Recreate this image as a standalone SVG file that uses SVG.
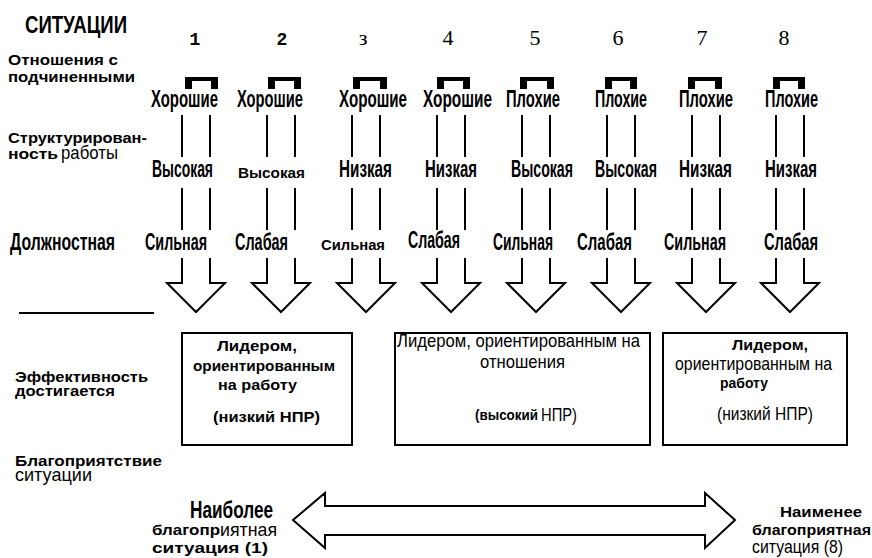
<svg xmlns="http://www.w3.org/2000/svg" xmlns:xlink="http://www.w3.org/1999/xlink" width="872" height="558" viewBox="0 0 872 558">
<style>
text{fill:#000}
.bc{font-family:"Liberation Sans",Arial,sans-serif;font-weight:bold;font-size:23px}
.bw{font-family:"Liberation Sans",Arial,sans-serif;font-weight:bold;font-size:14px}
.rc{font-family:"Liberation Sans",Arial,sans-serif;font-weight:normal;font-size:19px}
.nm{font-family:"Liberation Mono","Courier New",monospace;font-weight:bold;font-size:18px}
.ns{font-family:"Liberation Serif","Times New Roman",serif;font-size:22px}
.ln{fill:none;stroke:#000;stroke-width:2}
.br{fill:#000}
</style>
<defs>
<g id="arr">
<path class="ln" d="M-14,115V157M14,115V157M-14,188V230M14,188V230M-14,258V283H-29L0,312L29,283H14V258"/>
</g>
</defs>

<g id="labels">
<text class="bc" x="25" y="33" font-size="25" textLength="102" lengthAdjust="spacingAndGlyphs">СИТУАЦИИ</text>
<text class="bw" x="8" y="65" textLength="110" lengthAdjust="spacingAndGlyphs">Отношения с</text>
<text class="bw" x="8" y="82" textLength="127" lengthAdjust="spacingAndGlyphs">подчиненными</text>
<text class="bw" x="8" y="143" textLength="139" lengthAdjust="spacingAndGlyphs">Структурирован-</text>
<text class="bw" x="8" y="159" textLength="50" lengthAdjust="spacingAndGlyphs">ность</text>
<text class="rc" x="61" y="159" textLength="57" lengthAdjust="spacingAndGlyphs">работы</text>
<text class="bc" x="10" y="250" textLength="105" lengthAdjust="spacingAndGlyphs">Должностная</text>
<text class="bw" x="15" y="382" textLength="133" lengthAdjust="spacingAndGlyphs">Эффективность</text>
<text class="bw" x="15" y="396" textLength="100" lengthAdjust="spacingAndGlyphs">достигается</text>
<text class="bw" x="15" y="466" font-size="13" textLength="147" lengthAdjust="spacingAndGlyphs">Благоприятствие</text>
<text class="rc" x="15" y="481" textLength="77" lengthAdjust="spacingAndGlyphs">ситуации</text>
<line class="ln" x1="19" y1="313" x2="154" y2="313"/>
</g>

<g id="col1">
<text class="nm" x="195" y="45" text-anchor="middle">1</text>
<path class="br" d="M185,77H218V89H211V81H192V89H185Z"/>
<text class="bc" x="151" y="107" textLength="67" lengthAdjust="spacingAndGlyphs">Хорошие</text>
<text class="bc" x="152" y="177" textLength="61" lengthAdjust="spacingAndGlyphs">Высокая</text>
<text class="bc" x="145" y="250" textLength="62" lengthAdjust="spacingAndGlyphs">Сильная</text>
</g>
<g id="col2">
<text class="nm" x="282" y="45" text-anchor="middle">2</text>
<path class="br" d="M268,77H301V89H294V81H275V89H268Z"/>
<text class="bc" x="237" y="107" textLength="66" lengthAdjust="spacingAndGlyphs">Хорошие</text>
<text class="bw" x="238" y="178" textLength="67" lengthAdjust="spacingAndGlyphs">Высокая</text>
<text class="bc" x="235" y="250" textLength="53" lengthAdjust="spacingAndGlyphs">Слабая</text>
</g>
<g id="col3">
<text class="ns" x="363" y="45" text-anchor="middle">з</text>
<path class="br" d="M353,77H387V89H380V81H360V89H353Z"/>
<text class="bc" x="339" y="107" textLength="68" lengthAdjust="spacingAndGlyphs">Хорошие</text>
<text class="bc" x="339" y="177" textLength="53" lengthAdjust="spacingAndGlyphs">Низкая</text>
<text class="bw" x="321" y="250" font-size="15" textLength="64" lengthAdjust="spacingAndGlyphs">Сильная</text>
</g>
<g id="col4">
<text class="ns" x="448" y="45" text-anchor="middle">4</text>
<path class="br" d="M437,77H470V89H463V81H444V89H437Z"/>
<text class="bc" x="423" y="107" textLength="69" lengthAdjust="spacingAndGlyphs">Хорошие</text>
<text class="bc" x="425" y="177" textLength="52" lengthAdjust="spacingAndGlyphs">Низкая</text>
<text class="bc" x="408" y="248" textLength="52" lengthAdjust="spacingAndGlyphs">Слабая</text>
</g>
<g id="col5">
<text class="ns" x="535" y="45" text-anchor="middle">5</text>
<path class="br" d="M520,77H554V89H547V81H527V89H520Z"/>
<text class="bc" x="506" y="107" textLength="54" lengthAdjust="spacingAndGlyphs">Плохие</text>
<text class="bc" x="511" y="177" textLength="62" lengthAdjust="spacingAndGlyphs">Высокая</text>
<text class="bc" x="493" y="250" textLength="60" lengthAdjust="spacingAndGlyphs">Сильная</text>
</g>
<g id="col6">
<text class="ns" x="618" y="45" text-anchor="middle">6</text>
<path class="br" d="M605,77H637V89H630V81H612V89H605Z"/>
<text class="bc" x="595" y="107" textLength="52" lengthAdjust="spacingAndGlyphs">Плохие</text>
<text class="bc" x="595" y="177" textLength="62" lengthAdjust="spacingAndGlyphs">Высокая</text>
<text class="bc" x="577" y="250" textLength="55" lengthAdjust="spacingAndGlyphs">Слабая</text>
</g>
<g id="col7">
<text class="ns" x="702" y="45" text-anchor="middle">7</text>
<path class="br" d="M688,77H722V89H715V81H695V89H688Z"/>
<text class="bc" x="679" y="107" textLength="54" lengthAdjust="spacingAndGlyphs">Плохие</text>
<text class="bc" x="679" y="177" textLength="53" lengthAdjust="spacingAndGlyphs">Низкая</text>
<text class="bc" x="664" y="250" textLength="62" lengthAdjust="spacingAndGlyphs">Сильная</text>
</g>
<g id="col8">
<text class="ns" x="784" y="45" text-anchor="middle">8</text>
<path class="br" d="M773,77H805V89H798V81H780V89H773Z"/>
<text class="bc" x="765" y="107" textLength="53" lengthAdjust="spacingAndGlyphs">Плохие</text>
<text class="bc" x="765" y="177" textLength="52" lengthAdjust="spacingAndGlyphs">Низкая</text>
<text class="bc" x="764" y="250" textLength="54" lengthAdjust="spacingAndGlyphs">Слабая</text>
</g>

<g id="connectors">
<use xlink:href="#arr" x="196"/>
<use xlink:href="#arr" x="281"/>
<use xlink:href="#arr" x="366"/>
<use xlink:href="#arr" x="451"/>
<use xlink:href="#arr" x="536"/>
<use xlink:href="#arr" x="621"/>
<use xlink:href="#arr" x="706"/>
<use xlink:href="#arr" x="790"/>
</g>

<g id="box1">
<rect class="ln" x="182" y="333" width="170" height="112"/>
<text class="bw" x="217" y="351" textLength="80" lengthAdjust="spacingAndGlyphs">Лидером,</text>
<text class="bw" x="193" y="371" textLength="142" lengthAdjust="spacingAndGlyphs">ориентированным</text>
<text class="bw" x="218" y="390" textLength="79" lengthAdjust="spacingAndGlyphs">на работу</text>
<text class="bw" x="213" y="422" textLength="107" lengthAdjust="spacingAndGlyphs">(низкий НПР)</text>
</g>
<g id="box2">
<rect class="ln" x="395" y="333" width="255" height="112"/>
<text class="rc" x="397" y="347" textLength="243" lengthAdjust="spacingAndGlyphs">Лидером, ориентированным на</text>
<text class="rc" x="480" y="368" textLength="85" lengthAdjust="spacingAndGlyphs">отношения</text>
<text class="bw" x="475" y="420" textLength="63" lengthAdjust="spacingAndGlyphs">(высокий</text>
<text class="rc" x="541" y="421" textLength="36" lengthAdjust="spacingAndGlyphs">НПР)</text>
</g>
<g id="box3">
<rect class="ln" x="663" y="333" width="184" height="112"/>
<text class="bw" x="732" y="350" textLength="76" lengthAdjust="spacingAndGlyphs">Лидером,</text>
<text class="rc" x="675" y="370" textLength="157" lengthAdjust="spacingAndGlyphs">ориентированным на</text>
<text class="bw" x="720" y="388" textLength="48" lengthAdjust="spacingAndGlyphs">работу</text>
<text class="rc" x="717" y="420" textLength="96" lengthAdjust="spacingAndGlyphs">(низкий НПР)</text>
</g>

<g id="scale">
<path class="ln" d="M325,506H705V493L735,520L705,548V535H325V548L293,520L325,493Z"/>
<text class="bc" x="190" y="518" font-size="21" textLength="83" lengthAdjust="spacingAndGlyphs">Наиболее</text>
<text class="bw" x="152" y="535" textLength="68" lengthAdjust="spacingAndGlyphs">благопр</text>
<text class="rc" x="220" y="536" textLength="57" lengthAdjust="spacingAndGlyphs">иятная</text>
<text class="bw" x="152" y="553" textLength="116" lengthAdjust="spacingAndGlyphs">ситуация (1)</text>
<text class="bw" x="780" y="517" textLength="82" lengthAdjust="spacingAndGlyphs">Наименее</text>
<text class="bw" x="752" y="535" textLength="119" lengthAdjust="spacingAndGlyphs">благоприятная</text>
<text class="rc" x="752" y="553" textLength="91" lengthAdjust="spacingAndGlyphs">ситуация (8)</text>
</g>
</svg>
